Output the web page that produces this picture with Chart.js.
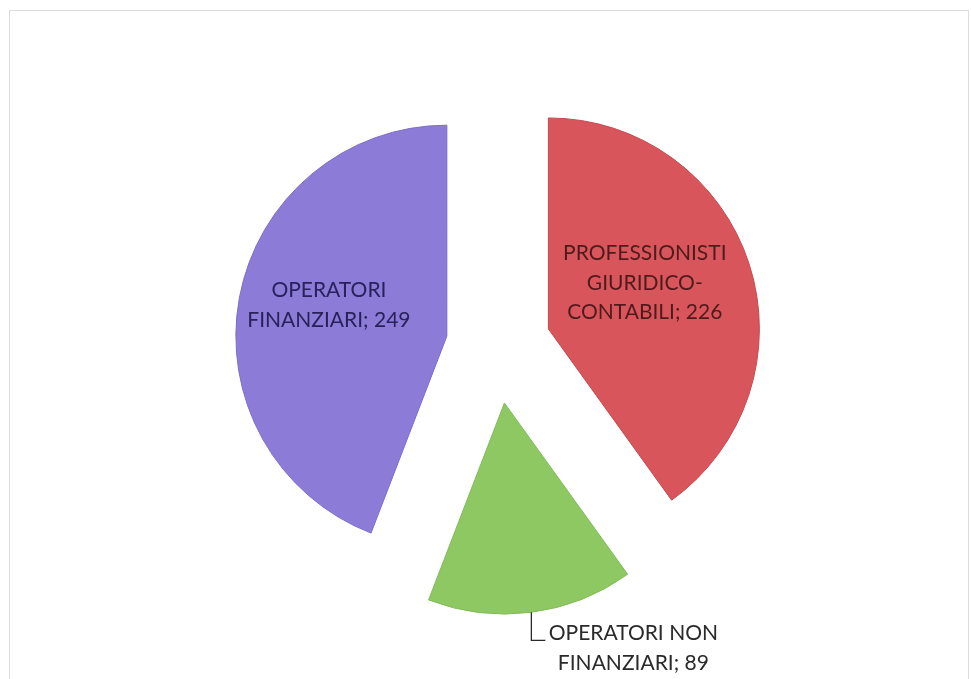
<!DOCTYPE html>
<html>
<head>
<meta charset="utf-8">
<script src="https://cdn.jsdelivr.net/npm/chart.js@4/dist/chart.umd.min.js"></script>
<style>
  html, body { margin: 0; padding: 0; background: #ffffff; }
  #wrap { position: relative; width: 971px; height: 679px; overflow: hidden; }
  #frame { position: absolute; left: 9px; top: 10px; width: 960px; height: 700px;
           border: 1px solid #dcdcdc; box-sizing: border-box; }
  #c { position: absolute; left: 0; top: 0; }
</style>
</head>
<body>
<div id="wrap">
  <div id="frame"></div>
  <canvas id="c" width="971" height="679"></canvas>
</div>
<script>
// ---- data ----
const categories = [
  ["PROFESSIONISTI", "GIURIDICO-", "CONTABILI"],
  ["OPERATORI NON", "FINANZIARI"],
  ["OPERATORI", "FINANZIARI"]
];
const values = [226, 89, 249];
const sliceColors = ["#d8565b", "#8dc862", "#8c7bd7"];
const sliceBorders = ["#c44a50", "#82bb58", "#7d6cc8"];
const labelColors = ["#4e1a1c", "#2a2a2a", "#28225a"];

// explosion distance of each slice along its bisector (px)
const explode = [54, 58, 51];

const FONT = "Lato, 'Open Sans', sans-serif";
const FONT_SIZE = 21;
const LINE_H = 29.5;

// place exploded slices: move each arc along its mid-angle
const explodePlugin = {
  id: 'explode',
  afterDatasetsUpdate(chart) {
    const ca = chart.chartArea;
    const cx = (ca.left + ca.right) / 2, cy = (ca.top + ca.bottom) / 2;
    chart.getDatasetMeta(0).data.forEach((arc, i) => {
      const mid = (arc.startAngle + arc.endAngle) / 2;
      arc.x = cx + Math.cos(mid) * explode[i];
      arc.y = cy + Math.sin(mid) * explode[i];
    });
  }
};

// label placement: inside (radius fraction, angle delta in degrees) or outside with leader
const labelPlacement = [
  { inside: true, frac: 0.506, dAng: -7.6 },
  { inside: false },
  { inside: true, frac: 0.578, dAng: 4.2 }
];

const labelPlugin = {
  id: 'sliceLabels',
  afterDatasetsDraw(chart) {
    const ctx = chart.ctx;
    const arcs = chart.getDatasetMeta(0).data;
    ctx.save();
    ctx.font = FONT_SIZE + "px " + FONT;
    ctx.textAlign = "center";
    ctx.textBaseline = "middle";
    arcs.forEach((arc, i) => {
      const lines = categories[i].slice();
      lines[lines.length - 1] = lines[lines.length - 1] + "; " + values[i];
      const mid = (arc.startAngle + arc.endAngle) / 2;
      const R = arc.outerRadius;
      const p = labelPlacement[i];
      ctx.fillStyle = labelColors[i];
      if (p.inside) {
        const a = mid + p.dAng * Math.PI / 180;
        const lx = arc.x + Math.cos(a) * R * p.frac;
        const ly = arc.y + Math.sin(a) * R * p.frac;
        const y0 = ly - (lines.length - 1) * LINE_H / 2;
        lines.forEach((t, k) => ctx.fillText(t, lx, y0 + k * LINE_H));
      } else {
        const px = arc.x + Math.cos(mid) * R;
        const py = arc.y + Math.sin(mid) * R;
        ctx.strokeStyle = "#2a2a2a";
        ctx.lineWidth = 1.3;
        ctx.beginPath();
        ctx.moveTo(px, py);
        ctx.lineTo(px, py + 28);
        ctx.lineTo(px + 14, py + 28);
        ctx.stroke();
        const tx = px + 102;
        const ty = py + 21;
        lines.forEach((t, k) => ctx.fillText(t, tx, ty + k * LINE_H));
      }
    });
    ctx.restore();
  }
};

new Chart(document.getElementById('c'), {
  type: 'pie',
  data: {
    labels: categories.map(c => c.join(" ")),
    datasets: [{
      data: values,
      backgroundColor: sliceColors,
      borderColor: sliceBorders,
      borderWidth: 1,
      radius: 211
    }]
  },
  options: {
    responsive: false,
    animation: false,
    rotation: 0,
    layout: { padding: { left: 23, right: 0, top: 12, bottom: 0 } },
    plugins: {
      legend: { display: false },
      tooltip: { enabled: false }
    }
  },
  plugins: [explodePlugin, labelPlugin]
});
</script>
</body>
</html>
